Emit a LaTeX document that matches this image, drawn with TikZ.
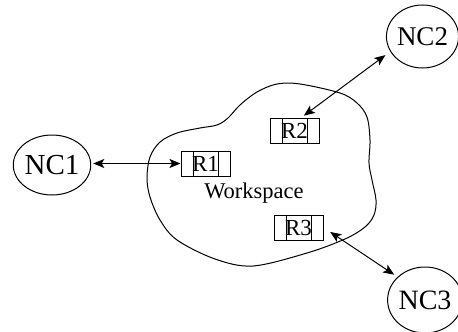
\documentclass[tikz,border=0pt]{standalone}
\usepackage{fontspec}
\setmainfont{Liberation Serif}
\usetikzlibrary{shapes.geometric,arrows.meta}

\begin{document}
\begin{tikzpicture}[x=1pt,y=-1pt,line width=1pt,
  client/.style={draw,ellipse,inner sep=0pt},
  rbox/.style={draw,minimum width=49pt,minimum height=25pt,inner sep=0pt,
    font=\fontsize{23pt}{25pt}\selectfont,
    path picture={
      \draw ([xshift=12pt]path picture bounding box.north west) -- ([xshift=12pt]path picture bounding box.south west);
      \draw ([xshift=-12pt]path picture bounding box.north east) -- ([xshift=-12pt]path picture bounding box.south east);
    }},
  link/.style={{Stealth[length=11pt,width=9pt,inset=2.5pt]}-{Stealth[length=11pt,width=9pt,inset=2.5pt]}}
]
\useasboundingbox (0,0) rectangle (458,332);

% workspace outline
\draw plot[smooth cycle,tension=0.55] coordinates {
  (147,178) (150,157) (160,142) (177,133) (200,128) (217,125) (228,118)
  (240,105) (257,92) (277,84) (300,84) (340,93) (357,103) (367,117)
  (370,140) (369,163) (372,180) (376,200) (374,215) (365,227) (345,239)
  (307,253) (253,266) (215,259) (177,240) (160,220) (150,197)};

% network clients
\node[client,minimum width=70pt,minimum height=60pt,font=\fontsize{29pt}{31pt}\selectfont] (nc1) at (52,165) {NC1};
\node[client,minimum width=69pt,minimum height=63pt,font=\fontsize{27pt}{29pt}\selectfont] (nc2) at (422.5,36.5) {NC2};
\node[client,minimum width=66pt,minimum height=66pt,font=\fontsize{28pt}{30pt}\selectfont] (nc3) at (425,300) {NC3};

% replicas
\node[rbox] (r1) at (205.5,163.5) {R1};
\node[rbox] (r2) at (294.5,130.5) {R2};
\node[rbox] (r3) at (298.5,227.5) {R3};

\node[font=\fontsize{22.5pt}{25pt}\selectfont] (ws) at (254,193) {Workspace};

% connections
\draw[link,shorten <=2pt] (r1.west -| nc1.east) -- (r1.west);
\draw[link,shorten <=3pt,shorten >=6pt] (r2.62) -- (nc2.205);
\draw[link,shorten <=8pt,shorten >=4pt] (r3.east) -- (nc3.140);
\end{tikzpicture}
\end{document}
